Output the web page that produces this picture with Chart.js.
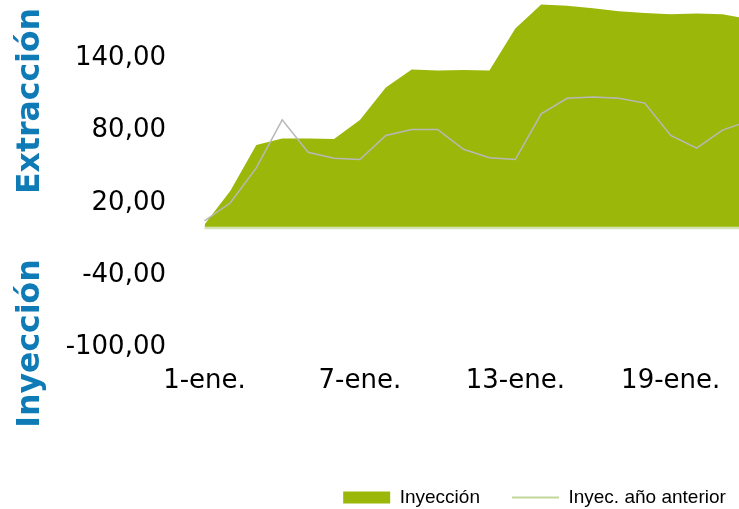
<!DOCTYPE html>
<html><head><meta charset="utf-8">
<script src="https://cdn.jsdelivr.net/npm/chart.js@4"></script>
<style>
html,body{margin:0;padding:0;background:#fff;overflow:hidden;}
#wrap{position:relative;width:739px;height:509px;overflow:hidden;background:#fff;}
#c{position:absolute;left:0;top:-85px;}
</style></head><body>
<div id="wrap"><canvas id="c" width="1069" height="602"></canvas></div>
<script>
// ---- data ----
const categories = ['1-ene.','2-ene.','3-ene.','4-ene.','5-ene.','6-ene.','7-ene.','8-ene.','9-ene.','10-ene.',
  '11-ene.','12-ene.','13-ene.','14-ene.','15-ene.','16-ene.','17-ene.','18-ene.','19-ene.','20-ene.',
  '21-ene.','22-ene.','23-ene.','24-ene.','25-ene.','26-ene.','27-ene.','28-ene.','29-ene.','30-ene.','31-ene.'];
const inyeccion = [2, 30, 68, 73.5, 73.5, 73, 89, 116, 131, 130, 130.5, 130, 165, 185, 184, 182, 179.5, 178, 177, 177.5, 177, 173];
const inyecAnterior = [5, 20, 49, 89, 62, 57, 56, 76, 81, 81, 64.5, 57.5, 56, 94, 107, 108, 107, 103, 76, 65.5, 80.5, 88];
const seriesNames = ['Inyección', 'Inyec. año anterior'];
const axisTitleTop = 'Extracción';
const axisTitleBottom = 'Inyección';
const yMin = -100, yMax = 200, yStep = 60;
const xLabelEvery = 6;

// ---- styles ----
const GREEN = '#9bb80a';
const LINE_GREY = '#b8b8b8';
const LEGEND_LINE = '#c4d79b';
const TITLE_BLUE = '#0f7bb6';
const OFFSET_TOP = 85;

const extrasPlugin = {
  id: 'extras',
  beforeDatasetsDraw(chart) {
    const {ctx, chartArea, scales} = chart;
    const y0 = scales.y.getPixelForValue(0);
    ctx.save();
    ctx.strokeStyle = '#d3e2b2';
    ctx.lineWidth = 3;
    ctx.beginPath();
    ctx.moveTo(chartArea.left, y0 + 1);
    ctx.lineTo(chartArea.right, y0 + 1);
    ctx.stroke();
    ctx.restore();
  },
  afterDraw(chart) {
    const ctx = chart.ctx;
    ctx.save();
    ctx.fillStyle = TITLE_BLUE;
    ctx.font = 'bold 31.5px "DejaVu Sans"';
    ctx.textAlign = 'center';
    ctx.textBaseline = 'alphabetic';
    [[axisTitleTop, 101], [axisTitleBottom, 343.5]].forEach(([t, cy]) => {
      ctx.save();
      ctx.translate(38.5, cy + OFFSET_TOP);
      ctx.rotate(-Math.PI / 2);
      ctx.fillText(t, 0, 0);
      ctx.restore();
    });
    ctx.restore();
  }
};

new Chart(document.getElementById('c'), {
  type: 'line',
  data: {
    labels: categories,
    datasets: [
      {
        label: seriesNames[0],
        data: inyeccion,
        fill: 'origin',
        backgroundColor: GREEN,
        borderColor: GREEN,
        borderWidth: 0,
        pointRadius: 0,
        tension: 0,
        order: 2
      },
      {
        label: seriesNames[1],
        data: inyecAnterior,
        fill: false,
        borderColor: LINE_GREY,
        borderWidth: 1.5,
        pointRadius: 0,
        tension: 0,
        order: 1
      }
    ]
  },
  options: {
    responsive: false,
    animation: false,
    devicePixelRatio: 1,
    layout: { padding: { left: 0, right: 0, top: 71.5, bottom: 0 } },
    plugins: {
      tooltip: { enabled: false },
      legend: {
        position: 'bottom',
        align: 'center',
        labels: {
          font: { family: '"Liberation Sans", Arial', size: 19 },
          color: '#222',
          usePointStyle: true,
          pointStyleWidth: 47,
          boxHeight: 12,
          padding: 32,
          generateLabels: () => [
            { text: seriesNames[0], fillStyle: GREEN, strokeStyle: GREEN, lineWidth: 0, pointStyle: 'rect', datasetIndex: 0, hidden: false },
            { text: seriesNames[1], fillStyle: 'rgba(0,0,0,0)', strokeStyle: LEGEND_LINE, lineWidth: 2, pointStyle: 'line', datasetIndex: 1, hidden: false }
          ]
        }
      }
    },
    scales: {
      x: {
        grid: { display: false, drawTicks: false },
        border: { display: false },
        ticks: {
          autoSkip: false,
          maxRotation: 0,
          minRotation: 0,
          padding: 19,
          color: '#000',
          font: { family: '"DejaVu Sans"', size: 26 },
          callback: (v, i) => (i % xLabelEvery === 0 ? categories[i] : '')
        },
        afterFit: (s) => { s.height = 109; }
      },
      y: {
        position: 'left',
        min: yMin,
        max: yMax,
        grid: { display: false, drawTicks: false },
        border: { display: false },
        ticks: {
          stepSize: yStep,
          padding: 38.5,
          color: '#000',
          font: { family: '"DejaVu Sans"', size: 26 },
          callback: (v) => v.toFixed(2).replace('.', ',')
        },
        afterFit: (s) => { s.width = 204.5; }
      },
      yRight: {
        position: 'right',
        display: true,
        grid: { display: false, drawTicks: false },
        border: { display: false },
        ticks: { display: false },
        afterFit: (s) => { s.width = 87.5; }
      }
    }
  },
  plugins: [extrasPlugin]
});
</script>
</body></html>
